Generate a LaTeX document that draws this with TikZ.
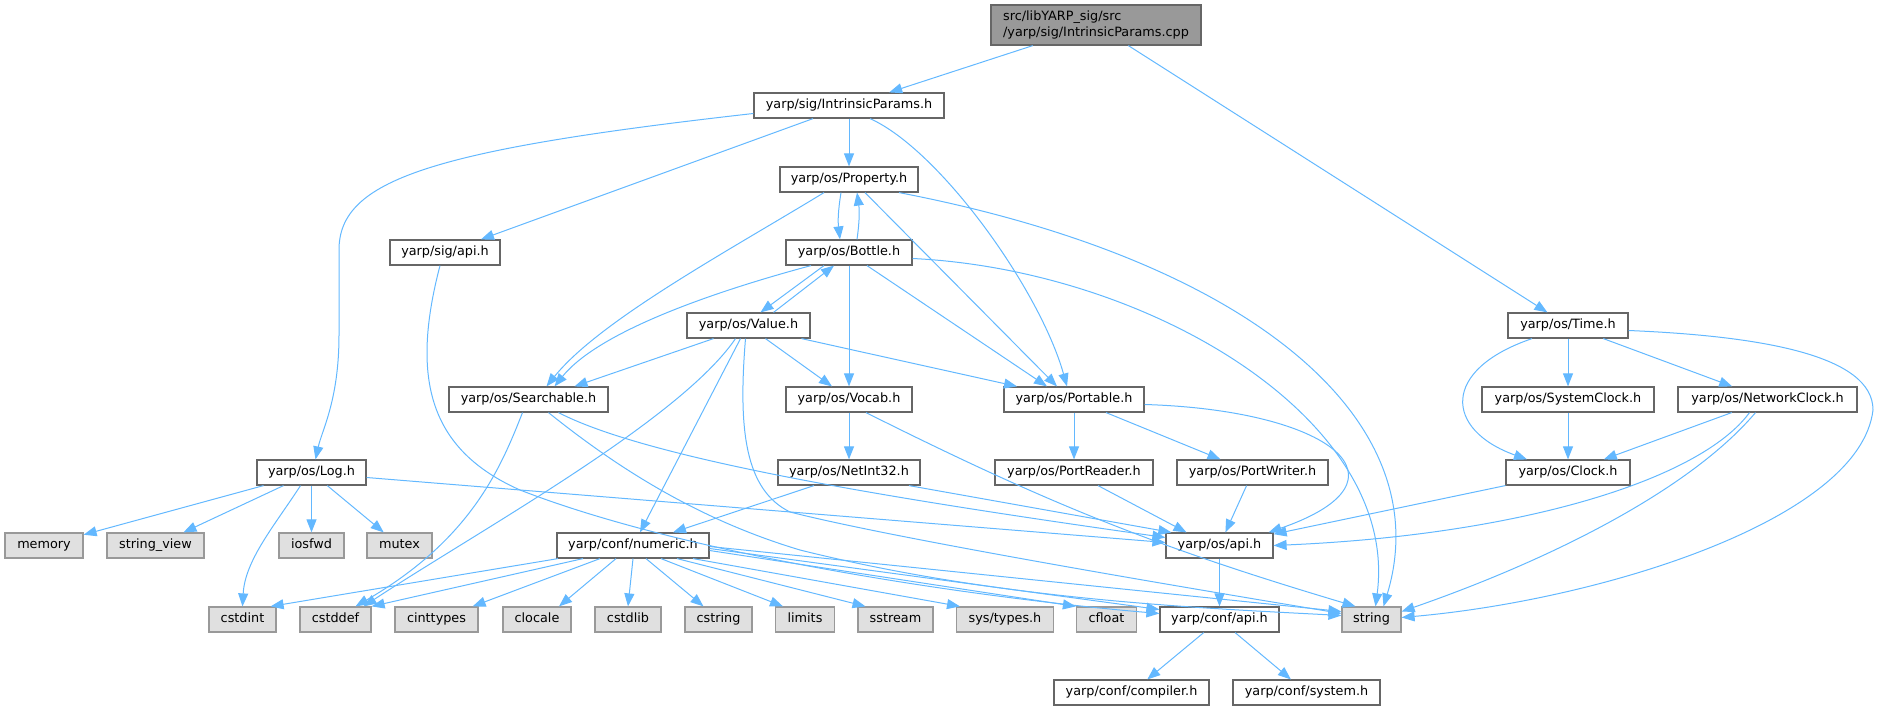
\documentclass[tikz,border=0pt]{standalone}
\usepackage{fontspec}
\setmainfont{DejaVu Sans}
\usetikzlibrary{arrows.meta}

\definecolor{edgeBlue}{HTML}{63B8FF}
\definecolor{boxLine}{HTML}{666666}
\definecolor{sysLine}{HTML}{999999}
\definecolor{sysFill}{HTML}{E0E0E0}
\definecolor{mainFill}{HTML}{999999}

\tikzset{
    boxBase/.style={line width=1.2pt, minimum height=25pt, inner xsep=2pt, inner ysep=0pt},
    header/.style={boxBase, draw=boxLine, fill=white, text height=9.6pt, text depth=3.1pt},
    sysHeader/.style={boxBase, draw=sysLine, fill=sysFill, text height=9.6pt, text depth=3.1pt},
    mainFile/.style={boxBase, draw=boxLine, fill=mainFill, minimum height=40pt, align=left},
    dep/.style={draw=edgeBlue, line width=1pt, -{Triangle[length=13pt,width=10pt]}}
}

\begin{document}
\begin{tikzpicture}[x=1pt, y=-1pt, font=\fontsize{12.8}{16}\selectfont]
        \useasboundingbox (0,0) rectangle (1877,711);

        \node[mainFile, minimum width=210pt] (rootFile) at (1096,25) {src/libYARP\_sig/src\\/yarp/sig/IntrinsicParams.cpp};
        \node[header, minimum width=190pt] (intrinsicH) at (849,105.5) {yarp/sig/IntrinsicParams.h};
        \node[header, minimum width=138pt] (propertyH) at (849,179.5) {yarp/os/Property.h};
        \node[header, minimum width=126pt] (bottleH) at (849,252.5) {yarp/os/Bottle.h};
        \node[header, minimum width=110pt] (sigApiH) at (445,252.5) {yarp/sig/api.h};
        \node[header, minimum width=123pt] (valueH) at (748.5,325.5) {yarp/os/Value.h};
        \node[header, minimum width=120pt] (timeH) at (1568,325.5) {yarp/os/Time.h};
        \node[header, minimum width=159pt] (searchableH) at (528.5,399.5) {yarp/os/Searchable.h};
        \node[header, minimum width=126pt] (vocabH) at (849,399.5) {yarp/os/Vocab.h};
        \node[header, minimum width=140pt] (portableH) at (1074,399.5) {yarp/os/Portable.h};
        \node[header, minimum width=172pt] (systemClockH) at (1568,399.5) {yarp/os/SystemClock.h};
        \node[header, minimum width=179pt] (networkClockH) at (1767.5,399.5) {yarp/os/NetworkClock.h};
        \node[header, minimum width=109pt] (logH) at (311.5,472.5) {yarp/os/Log.h};
        \node[header, minimum width=142pt] (netIntH) at (849,472.5) {yarp/os/NetInt32.h};
        \node[header, minimum width=158pt] (portReaderH) at (1074,472.5) {yarp/os/PortReader.h};
        \node[header, minimum width=151pt] (portWriterH) at (1252.5,472.5) {yarp/os/PortWriter.h};
        \node[header, minimum width=124pt] (clockH) at (1568,472.5) {yarp/os/Clock.h};
        \node[sysHeader, minimum width=78pt] (memoryH) at (44,545.5) {memory};
        \node[sysHeader, minimum width=97pt] (stringViewH) at (155.5,545.5) {string\_view};
        \node[sysHeader, minimum width=65pt] (iosfwdH) at (311.5,545.5) {iosfwd};
        \node[sysHeader, minimum width=65pt] (mutexH) at (399.5,545.5) {mutex};
        \node[header, minimum width=152pt] (numericH) at (633,545.5) {yarp/conf/numeric.h};
        \node[header, minimum width=107pt] (osApiH) at (1219.5,545.5) {yarp/os/api.h};
        \node[sysHeader, minimum width=67pt] (cstdintH) at (242.5,619.5) {cstdint};
        \node[sysHeader, minimum width=71pt] (cstddefH) at (335.5,619.5) {cstddef};
        \node[sysHeader, minimum width=83pt] (cinttypesH) at (436.5,619.5) {cinttypes};
        \node[sysHeader, minimum width=68pt] (clocaleH) at (537,619.5) {clocale};
        \node[sysHeader, minimum width=66pt] (cstdlibH) at (628,619.5) {cstdlib};
        \node[sysHeader, minimum width=67pt] (cstringH) at (718.5,619.5) {cstring};
        \node[sysHeader, minimum width=59pt] (limitsH) at (805,619.5) {limits};
        \node[sysHeader, minimum width=75pt] (sstreamH) at (895.5,619.5) {sstream};
        \node[sysHeader, minimum width=97pt] (sysTypesH) at (1005,619.5) {sys/types.h};
        \node[sysHeader, minimum width=60pt] (cfloatH) at (1106.5,619.5) {cfloat};
        \node[header, minimum width=119pt] (confApiH) at (1219.5,619.5) {yarp/conf/api.h};
        \node[sysHeader, minimum width=59pt] (stringH) at (1371.5,619.5) {string};
        \node[header, minimum width=155pt] (compilerH) at (1131.5,692.5) {yarp/conf/compiler.h};
        \node[header, minimum width=147pt] (systemH) at (1306.5,692.5) {yarp/conf/system.h};

        \draw[dep] (rootFile) -- (intrinsicH);
        \draw[dep] (rootFile) -- (timeH);

        \draw[dep] ([yshift=-8pt]intrinsicH.west) .. controls (430,150) and (339,180) .. (339,250)
            -- (339,335) .. controls (339,400) and (322,430) .. ([xshift=4pt]logH.north);
        \draw[dep] (intrinsicH) -- (sigApiH);
        \draw[dep] (intrinsicH) -- (propertyH);
        \draw[dep] ([xshift=21pt]intrinsicH.south) .. controls (940,150) and (1040,290) .. ([xshift=-7pt]portableH.north);

        \draw[dep] ([xshift=-25pt]propertyH.south) .. controls (730,250) and (600,320) .. ([xshift=18pt]searchableH.north);
        \draw[dep] ([xshift=-8pt]propertyH.south) to[bend right=8] ([xshift=-9pt]bottleH.north);
        \draw[dep] ([xshift=8pt]bottleH.north) to[bend right=8] ([xshift=8pt]propertyH.south);
        \draw[dep] ([xshift=16pt]propertyH.south) -- ([xshift=-17pt]portableH.north);
        \draw[dep] ([xshift=50pt]propertyH.south) .. controls (1250,260) and (1440,420) .. ([xshift=12pt]stringH.north);

        \draw[dep] ([xshift=-38pt]bottleH.south) .. controls (720,290) and (600,330) .. ([xshift=26pt]searchableH.north);
        \draw[dep] ([xshift=-25pt]bottleH.south) -- ([xshift=12pt]valueH.north);
        \draw[dep] (bottleH) -- (vocabH);
        \draw[dep] ([xshift=18pt]bottleH.south) -- ([xshift=-27pt]portableH.north);
        \draw[dep] ([yshift=-6pt]bottleH.east) .. controls (1150,270) and (1400,420) .. ([xshift=4pt]stringH.north);

        \draw[dep] ([xshift=25pt]valueH.north) -- ([xshift=-15pt]bottleH.south);
        \draw[dep] ([xshift=-35pt]valueH.south) -- ([xshift=46pt]searchableH.north);
        \draw[dep] ([xshift=17pt]valueH.south) -- ([xshift=-17pt]vocabH.north);
        \draw[dep] ([xshift=53pt]valueH.south) -- ([xshift=-57pt]portableH.north);
        \draw[dep] ([xshift=-13pt]valueH.south) .. controls (680,420) and (480,530) .. ([xshift=28pt]cstddefH.north);
        \draw[dep] ([xshift=-8pt]valueH.south) -- ([xshift=7pt]numericH.north);
        \draw[dep] ([xshift=-3pt]valueH.south) .. controls (738,430) and (745,490) .. (790,512)
            .. controls (900,540) and (1200,590) .. ([yshift=6pt]stringH.west);

        \draw[dep] ([xshift=-6pt]searchableH.south) .. controls (500,470) and (470,540) .. ([xshift=20pt]cstddefH.north);
        \draw[dep] ([xshift=30pt]searchableH.south) .. controls (650,460) and (900,500) .. ([yshift=8pt]osApiH.west);
        \draw[dep] ([xshift=20pt]searchableH.south) .. controls (620,470) and (700,520) .. (800,550)
            .. controls (1000,600) and (1200,608) .. ([yshift=4pt]stringH.west);

        \draw[dep] ([xshift=-5pt]sigApiH.south) .. controls (410,380) and (430,450) .. (520,490)
            .. controls (700,560) and (1000,600) .. ([yshift=6pt]confApiH.west);

        \draw[dep] ([yshift=-5pt]logH.east) -- ([yshift=3pt]osApiH.west);
        \draw[dep] (logH) -- (memoryH);
        \draw[dep] (logH) -- (stringViewH);
        \draw[dep] (logH) -- (iosfwdH);
        \draw[dep] (logH) -- (mutexH);
        \draw[dep] ([xshift=-11pt]logH.south) .. controls (275,525) and (245,560) .. (cstdintH.north);

        \draw[dep] ([xshift=-75pt]numericH.south) -- ([xshift=-6pt]cstdintH.north east);
        \draw[dep] ([xshift=-50pt]numericH.south) -- (cstddefH.north east);
        \draw[dep] ([xshift=-33pt]numericH.south) -- ([xshift=-6pt]cinttypesH.north east);
        \draw[dep] ([xshift=-17pt]numericH.south) -- ([xshift=22pt]clocaleH.north);
        \draw[dep] (numericH.south) -- (cstdlibH.north);
        \draw[dep] ([xshift=13pt]numericH.south) -- ([xshift=-15pt]cstringH.north);
        \draw[dep] ([xshift=28pt]numericH.south) -- ([xshift=-22pt]limitsH.north);
        \draw[dep] ([xshift=44pt]numericH.south) -- ([xshift=-30pt]sstreamH.north);
        \draw[dep] ([xshift=60pt]numericH.south) -- ([xshift=-45pt]sysTypesH.north);
        \draw[dep] ([yshift=-5pt]numericH.east) -- (cfloatH.north west);
        \draw[dep] ([yshift=-3pt]numericH.east) -- ([yshift=10pt]confApiH.west);
        \draw[dep] ([yshift=-1pt]numericH.east) -- ([yshift=8pt]stringH.west);

        \draw[dep] ([xshift=-35pt]netIntH.south) -- ([xshift=40pt]numericH.north);
        \draw[dep] ([xshift=60pt]netIntH.south) -- ([xshift=6pt]osApiH.north west);
        \draw[dep] (vocabH) -- (netIntH);
        \draw[dep] ([xshift=17pt]vocabH.south) to[bend right=5] ([xshift=-16pt]stringH.north);

        \draw[dep] (portableH) -- (portReaderH);
        \draw[dep] (portableH) -- (portWriterH);
        \draw[dep] ([yshift=-5pt]portableH.east) .. controls (1330,410) and (1420,480) .. ([xshift=-5pt]osApiH.north east);
        \draw[dep] ([xshift=24pt]portReaderH.south) -- ([xshift=-33pt]osApiH.north);
        \draw[dep] (portWriterH) -- (osApiH);
        \draw[dep] (osApiH) -- (confApiH);
        \draw[dep] (confApiH) -- (compilerH);
        \draw[dep] (confApiH) -- (systemH);

        \draw[dep] (timeH) -- (systemClockH);
        \draw[dep] (timeH) -- (networkClockH);
        \draw[dep] ([xshift=-36pt]timeH.south) .. controls (1440,370) and (1445,430) .. ([xshift=-41pt]clockH.north);
        \draw[dep] ([yshift=-5pt]timeH.east) .. controls (1760,336) and (1873,355) .. (1873,410)
            .. controls (1860,520) and (1600,600) .. ([yshift=2pt]stringH.east);
        \draw[dep] (systemClockH) -- (clockH);
        \draw[dep] (networkClockH) -- (clockH);
        \draw[dep] ([xshift=-18pt]networkClockH.south) .. controls (1700,480) and (1520,535) .. (osApiH.east);
        \draw[dep] ([xshift=-12pt]networkClockH.south) .. controls (1690,490) and (1550,560) .. ([yshift=8pt]stringH.east);
        \draw[dep] (clockH) -- (osApiH);
    \end{tikzpicture}
\end{document}
